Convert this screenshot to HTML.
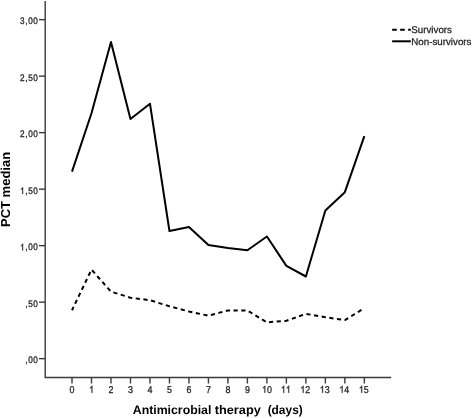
<!DOCTYPE html><html><head><meta charset="utf-8"><style>html,body{margin:0;padding:0;background:#fff;}svg{display:block;will-change:transform}text{font-family:"Liberation Sans",sans-serif;text-rendering:geometricPrecision;}</style></head><body>
<svg width="472" height="418" viewBox="0 0 472 418">
<rect width="472" height="418" fill="#fff"/>
<g stroke="#3a3a3a" stroke-width="1.4" fill="none">
<path d="M45.2 1.0V377.5H391.2"/>
<path d="M39 358.65H45.2"/>
<path d="M39 302.15H45.2"/>
<path d="M39 245.65H45.2"/>
<path d="M39 189.15H45.2"/>
<path d="M39 132.65H45.2"/>
<path d="M39 76.15H45.2"/>
<path d="M39 19.65H45.2"/>
<path d="M72.00 377.5V383.5"/>
<path d="M91.49 377.5V383.5"/>
<path d="M110.98 377.5V383.5"/>
<path d="M130.47 377.5V383.5"/>
<path d="M149.96 377.5V383.5"/>
<path d="M169.45 377.5V383.5"/>
<path d="M188.94 377.5V383.5"/>
<path d="M208.43 377.5V383.5"/>
<path d="M227.92 377.5V383.5"/>
<path d="M247.41 377.5V383.5"/>
<path d="M266.90 377.5V383.5"/>
<path d="M286.39 377.5V383.5"/>
<path d="M305.88 377.5V383.5"/>
<path d="M325.37 377.5V383.5"/>
<path d="M344.86 377.5V383.5"/>
<path d="M364.35 377.5V383.5"/>
</g>
<g fill="#222" stroke="#222" stroke-width="0.25" font-size="8.2">
<text transform="translate(0 363.45) scale(1 1.16)" x="25.20 28.30 33.20" y="0">,00</text>
<text transform="translate(0 306.95) scale(1 1.16)" x="25.20 28.30 33.20" y="0">,50</text>
<text transform="translate(0 250.45) scale(1 1.16)" x="25.20 28.30 33.20" y="0">,00</text><path transform="translate(20.00 250.45) scale(8.2 9.512)" d="M0.373 0V-0.716H0.315C0.29 -0.66 0.24 -0.61 0.2 -0.58C0.16 -0.55 0.13 -0.53 0.109 -0.52V-0.44C0.17 -0.465 0.24 -0.51 0.283 -0.555V0Z" stroke-width="0.0305"/>
<text transform="translate(0 193.95) scale(1 1.16)" x="25.20 28.30 33.20" y="0">,50</text><path transform="translate(20.00 193.95) scale(8.2 9.512)" d="M0.373 0V-0.716H0.315C0.29 -0.66 0.24 -0.61 0.2 -0.58C0.16 -0.55 0.13 -0.53 0.109 -0.52V-0.44C0.17 -0.465 0.24 -0.51 0.283 -0.555V0Z" stroke-width="0.0305"/>
<text transform="translate(0 137.45) scale(1 1.16)" x="20.00 25.20 28.30 33.20" y="0">2,00</text>
<text transform="translate(0 80.95) scale(1 1.16)" x="20.00 25.20 28.30 33.20" y="0">2,50</text>
<text transform="translate(0 24.45) scale(1 1.16)" x="20.00 25.20 28.30 33.20" y="0">3,00</text>
</g>
<g fill="#222" stroke="#222" stroke-width="0.25" font-size="8.9">
<text transform="translate(0 392.80) scale(1 1.11)" x="69.53" y="0">0</text>
<path transform="translate(89.02 392.80) scale(8.9 9.879)" d="M0.373 0V-0.716H0.315C0.29 -0.66 0.24 -0.61 0.2 -0.58C0.16 -0.55 0.13 -0.53 0.109 -0.52V-0.44C0.17 -0.465 0.24 -0.51 0.283 -0.555V0Z" stroke-width="0.0281"/>
<text transform="translate(0 392.80) scale(1 1.11)" x="108.51" y="0">2</text>
<text transform="translate(0 392.80) scale(1 1.11)" x="128.00" y="0">3</text>
<text transform="translate(0 392.80) scale(1 1.11)" x="147.49" y="0">4</text>
<text transform="translate(0 392.80) scale(1 1.11)" x="166.98" y="0">5</text>
<text transform="translate(0 392.80) scale(1 1.11)" x="186.47" y="0">6</text>
<text transform="translate(0 392.80) scale(1 1.11)" x="205.96" y="0">7</text>
<text transform="translate(0 392.80) scale(1 1.11)" x="225.45" y="0">8</text>
<text transform="translate(0 392.80) scale(1 1.11)" x="244.94" y="0">9</text>
<text transform="translate(0 392.80) scale(1 1.11)" x="266.90" y="0">0</text><path transform="translate(261.95 392.80) scale(8.9 9.879)" d="M0.373 0V-0.716H0.315C0.29 -0.66 0.24 -0.61 0.2 -0.58C0.16 -0.55 0.13 -0.53 0.109 -0.52V-0.44C0.17 -0.465 0.24 -0.51 0.283 -0.555V0Z" stroke-width="0.0281"/>
<path transform="translate(280.84 392.80) scale(8.9 9.879)" d="M0.373 0V-0.716H0.315C0.29 -0.66 0.24 -0.61 0.2 -0.58C0.16 -0.55 0.13 -0.53 0.109 -0.52V-0.44C0.17 -0.465 0.24 -0.51 0.283 -0.555V0Z" stroke-width="0.0281"/><path transform="translate(285.79 392.80) scale(8.9 9.879)" d="M0.373 0V-0.716H0.315C0.29 -0.66 0.24 -0.61 0.2 -0.58C0.16 -0.55 0.13 -0.53 0.109 -0.52V-0.44C0.17 -0.465 0.24 -0.51 0.283 -0.555V0Z" stroke-width="0.0281"/>
<text transform="translate(0 392.80) scale(1 1.11)" x="305.18" y="0">2</text><path transform="translate(300.23 392.80) scale(8.9 9.879)" d="M0.373 0V-0.716H0.315C0.29 -0.66 0.24 -0.61 0.2 -0.58C0.16 -0.55 0.13 -0.53 0.109 -0.52V-0.44C0.17 -0.465 0.24 -0.51 0.283 -0.555V0Z" stroke-width="0.0281"/>
<text transform="translate(0 392.80) scale(1 1.11)" x="324.67" y="0">3</text><path transform="translate(319.72 392.80) scale(8.9 9.879)" d="M0.373 0V-0.716H0.315C0.29 -0.66 0.24 -0.61 0.2 -0.58C0.16 -0.55 0.13 -0.53 0.109 -0.52V-0.44C0.17 -0.465 0.24 -0.51 0.283 -0.555V0Z" stroke-width="0.0281"/>
<text transform="translate(0 392.80) scale(1 1.11)" x="344.16" y="0">4</text><path transform="translate(339.21 392.80) scale(8.9 9.879)" d="M0.373 0V-0.716H0.315C0.29 -0.66 0.24 -0.61 0.2 -0.58C0.16 -0.55 0.13 -0.53 0.109 -0.52V-0.44C0.17 -0.465 0.24 -0.51 0.283 -0.555V0Z" stroke-width="0.0281"/>
<text transform="translate(0 392.80) scale(1 1.11)" x="363.75" y="0">5</text><path transform="translate(358.80 392.80) scale(8.9 9.879)" d="M0.373 0V-0.716H0.315C0.29 -0.66 0.24 -0.61 0.2 -0.58C0.16 -0.55 0.13 -0.53 0.109 -0.52V-0.44C0.17 -0.465 0.24 -0.51 0.283 -0.555V0Z" stroke-width="0.0281"/>
</g>
<g font-size="12.3" font-weight="bold" fill="#000">
<text x="132.75" y="414.1">Antimicrobial</text>
<text x="214.77" y="414.1" textLength="46.0" lengthAdjust="spacingAndGlyphs">therapy</text>
<text x="267.63" y="414.1" textLength="35.1" lengthAdjust="spacingAndGlyphs">(days)</text>
</g>
<text transform="translate(10.25 189.45) rotate(-90)" font-size="13.0" font-weight="bold" fill="#000" text-anchor="middle">PCT median</text>
<polyline points="72.00,171.60 91.49,113.30 110.98,42.00 130.47,119.00 149.96,103.70 169.45,231.00 188.94,226.90 208.43,245.10 227.92,248.00 247.41,250.30 266.90,236.50 286.39,265.90 305.88,276.50 325.37,210.50 344.86,192.20 364.35,136.20" fill="none" stroke="#000" stroke-width="2.0" stroke-linejoin="round"/>
<polyline points="72.00,310.20 91.49,269.60 110.98,291.60 130.47,297.70 149.96,300.20 169.45,306.30 188.94,311.50 208.43,315.70 227.92,310.40 247.41,310.50 266.90,322.30 286.39,320.80 305.88,313.80 325.37,317.20 344.86,320.10 364.35,308.20" fill="none" stroke="#000" stroke-width="2.0" stroke-dasharray="4.2 3.545" stroke-dashoffset="0.53" stroke-linejoin="round"/>
<path d="M392.15 29.75H410.8" stroke="#000" stroke-width="2" stroke-dasharray="4.7 3.3"/>
<path d="M392.15 41.3H410.8" stroke="#000" stroke-width="2"/>
<g fill="#222" stroke="#222" stroke-width="0.25" font-size="9.75">
<text x="411.3" y="33.45">Survivors</text>
<text x="411.3" y="45.45">Non-survivors</text>
</g>
</svg></body></html>
